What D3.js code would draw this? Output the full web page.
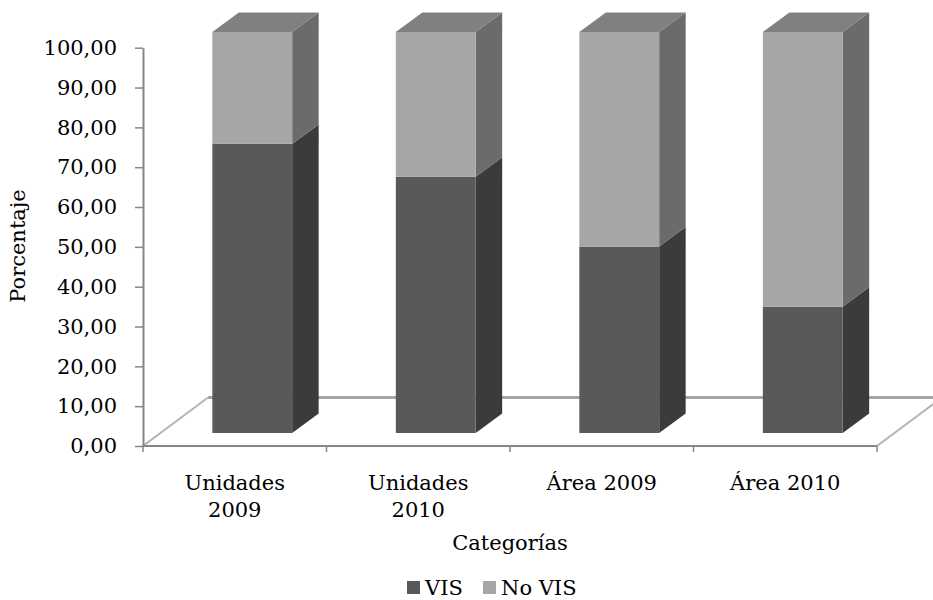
<html>
<head>
  <meta charset="utf-8">
  <style>
  body {
    margin: 0;
    background: #fff;
  }
  text {
    font-family: "DejaVu Serif", serif;
    fill: #000;
  }
  </style>
</head>
<body>
  <div id="chart"></div>
  <script src="https://d3js.org/d3.v7.min.js"></script>
  <script>
  'use strict';

  // data
  var categories = ['Unidades 2009', 'Unidades 2010', 'Área 2009', 'Área 2010'];
  var categoryLines = [['Unidades', '2009'], ['Unidades', '2010'], ['Área 2009'], ['Área 2010']];
  var seriesNames = ['VIS', 'No VIS'];
  var visValues = [72.1, 63.9, 46.5, 31.5];
  var noVisValues = [27.9, 36.1, 53.5, 68.5];
  var yTicks = [0, 10, 20, 30, 40, 50, 60, 70, 80, 90, 100];

  var width = 933,
      height = 600;

  // faces: front, side, top
  var colors = {
    'VIS':    { front: '#595959', side: '#3b3b3b', top: '#4a4a4a' },
    'No VIS': { front: '#a6a6a6', side: '#6b6b6b', top: '#808080' }
  };

  var plotLeft = 143, plotRight = 877, plotBottom = 446, plotTop = 47.7;
  // floor depth and bar depth (oblique projection)
  var floorDx = 65, floorDy = -48.5;
  var barShiftX = 17.5, barShiftY = -13;
  var barDx = 26.5, barDy = -19.5;

  var svg = d3.select('#chart').append('svg')
    .attr('width', width)
    .attr('height', height);

  var x = d3.scaleBand()
    .domain(categories)
    .range([plotLeft, plotRight])
    .paddingInner(0.565)
    .paddingOuter(0.2825);

  var y = d3.scaleLinear().domain([0, 100]).range([plotBottom, plotTop]);
  // bars sit a bit back on the floor
  var yBar = d3.scaleLinear().domain([0, 100]).range([plotBottom + barShiftY, 32]);

  var fmt = d3.formatLocale({ decimal: ',', thousands: '.', grouping: [3], currency: ['', ''] }).format('.2f');

  // floor: back and side edges
  var floor = svg.append('g').attr('fill', 'none');
  floor.append('line')
    .attr('x1', plotLeft + floorDx).attr('y1', plotBottom + floorDy)
    .attr('x2', plotRight + floorDx).attr('y2', plotBottom + floorDy)
    .attr('stroke', '#a6a6a6').attr('stroke-width', 3);
  floor.append('line')
    .attr('x1', plotLeft).attr('y1', plotBottom)
    .attr('x2', plotLeft + floorDx).attr('y2', plotBottom + floorDy)
    .attr('stroke', '#b4b4b4').attr('stroke-width', 2);
  floor.append('line')
    .attr('x1', plotRight).attr('y1', plotBottom)
    .attr('x2', plotRight + floorDx).attr('y2', plotBottom + floorDy)
    .attr('stroke', '#b4b4b4').attr('stroke-width', 2);

  // stacked data
  var rows = categories.map(function(c, i) {
    return { cat: c, 'VIS': visValues[i], 'No VIS': noVisValues[i] };
  });
  var stacked = d3.stack().keys(seriesNames)(rows);

  var bars = svg.append('g');
  stacked.forEach(function(layer, li) {
    var name = layer.key;
    var g = bars.append('g');
    layer.forEach(function(d, i) {
      var x0 = x(categories[i]) + barShiftX,
          x1 = x0 + x.bandwidth(),
          y0 = yBar(d[0]),
          y1 = yBar(d[1]);
      // side face
      g.append('polygon')
        .attr('points', [[x1, y0], [x1 + barDx, y0 + barDy], [x1 + barDx, y1 + barDy], [x1, y1]].join(' '))
        .attr('fill', colors[name].side);
      // top face only on the top segment
      if (li === stacked.length - 1) {
        g.append('polygon')
          .attr('points', [[x0, y1], [x0 + barDx, y1 + barDy], [x1 + barDx, y1 + barDy], [x1, y1]].join(' '))
          .attr('fill', colors[name].top);
      }
      // front face
      g.append('rect')
        .attr('x', x0)
        .attr('y', y1)
        .attr('width', x.bandwidth())
        .attr('height', y0 - y1)
        .attr('fill', colors[name].front);
    });
  });

  // y axis
  var yAxis = svg.append('g')
    .attr('transform', 'translate(' + plotLeft + ',0)')
    .call(d3.axisLeft(y).tickValues(yTicks).tickFormat(fmt).tickSize(8).tickPadding(18).tickSizeOuter(0));
  yAxis.select('.domain').attr('stroke', '#868686').attr('stroke-width', 2);
  yAxis.selectAll('.tick line').attr('stroke', '#868686').attr('stroke-width', 1.5);
  yAxis.selectAll('.tick text').attr('font-size', 21).attr('font-family', '"DejaVu Serif", serif').attr('fill', '#000');

  // x axis: line + ticks at category boundaries
  var xAxis = svg.append('g');
  xAxis.append('line')
    .attr('x1', plotLeft).attr('y1', plotBottom)
    .attr('x2', plotRight).attr('y2', plotBottom)
    .attr('stroke', '#868686').attr('stroke-width', 2);
  var gap = x.step() - x.bandwidth();
  var bounds = categories.map(function(c) { return x(c) - gap / 2; }).concat([plotRight]);
  xAxis.selectAll('.xtick').data(bounds).enter().append('line')
    .attr('class', 'xtick')
    .attr('x1', function(d) { return d; }).attr('x2', function(d) { return d; })
    .attr('y1', plotBottom).attr('y2', plotBottom + 6)
    .attr('stroke', '#868686').attr('stroke-width', 1.5);

  var labels = xAxis.selectAll('.xlabel').data(categories).enter().append('text')
    .attr('class', 'xlabel')
    .attr('text-anchor', 'middle')
    .attr('font-size', 21)
    .attr('x', function(d) { return x(d) + x.bandwidth() / 2; })
    .attr('y', 490);
  labels.each(function(d, i) {
    var t = d3.select(this);
    categoryLines[i].forEach(function(line, k) {
      t.append('tspan')
        .attr('x', x(d) + x.bandwidth() / 2)
        .attr('dy', k === 0 ? 0 : 27)
        .text(line);
    });
  });

  // axis titles
  svg.append('text')
    .attr('text-anchor', 'middle')
    .attr('font-size', 21)
    .attr('transform', 'translate(25,246) rotate(-90)')
    .text('Porcentaje');

  svg.append('text')
    .attr('text-anchor', 'middle')
    .attr('font-size', 21)
    .attr('x', (plotLeft + plotRight) / 2)
    .attr('y', 550)
    .text('Categorías');

  // legend
  var legendX = [407, 483];
  var legend = svg.append('g').selectAll('g').data(seriesNames).enter().append('g')
    .attr('transform', function(d, i) { return 'translate(' + legendX[i] + ',581)'; });
  legend.append('rect')
    .attr('width', 13).attr('height', 13)
    .attr('fill', function(d) { return colors[d].front; });
  legend.append('text')
    .attr('x', 18)
    .attr('y', 13.5)
    .attr('font-size', 21)
    .text(function(d) { return d; });
  </script>
</body>
</html>
